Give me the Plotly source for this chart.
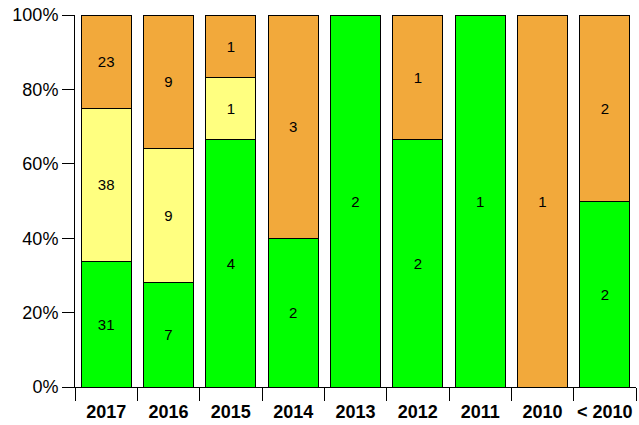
import plotly.graph_objects as go

categories = ["2017", "2016", "2015", "2014", "2013", "2012", "2011", "2010", "< 2010"]
green_vals = [31, 7, 4, 2, 2, 2, 1, 0, 2]
yellow_vals = [38, 9, 1, 0, 0, 0, 0, 0, 0]
orange_vals = [23, 9, 1, 3, 0, 1, 0, 1, 2]
y_ticks = [0, 20, 40, 60, 80, 100]
y_tick_labels = ["0%", "20%", "40%", "60%", "80%", "100%"]

series = [
    ("green", green_vals, "#00FF00"),
    ("yellow", yellow_vals, "#FFFF80"),
    ("orange", orange_vals, "#F2A93B"),
]

fig = go.Figure()
for name, vals, color in series:
    fig.add_trace(go.Bar(
        x=categories, y=vals, name=name,
        marker=dict(color=color, line=dict(color="black", width=1)),
        text=[str(v) if v else "" for v in vals],
        textposition="inside", insidetextanchor="middle",
        textfont=dict(family="Liberation Sans, Arial", size=15, color="black"),
        textangle=0,
    ))

fig.update_layout(
    barmode="stack", barnorm="percent", bargap=0.2,
    width=639, height=425,
    margin=dict(l=75, r=3, t=15, b=38),
    plot_bgcolor="white", paper_bgcolor="white",
    showlegend=False,
    font=dict(family="Liberation Sans, Arial", color="black"),
)
fig.update_xaxes(
    showline=True, linecolor="black", linewidth=1,
    ticks="outside", tickson="boundaries", ticklen=13, tickcolor="black",
    tickfont=dict(size=18, family="Liberation Sans, Arial", color="black", weight="bold"),
    tickangle=0, ticklabelstandoff=8, automargin=False,
    showgrid=False,
)
fig.update_yaxes(
    range=[0, 100], tickmode="array", tickvals=y_ticks, ticktext=y_tick_labels,
    showline=True, linecolor="black", linewidth=1,
    ticks="outside", ticklen=12, tickcolor="black",
    tickfont=dict(size=18, color="black"), automargin=False,
    showgrid=False, zeroline=False,
)
fig.write_html("out.html", config={"displayModeBar": False},
               post_script="document.body.style.margin='0';window.dispatchEvent(new Event('resize'));")
